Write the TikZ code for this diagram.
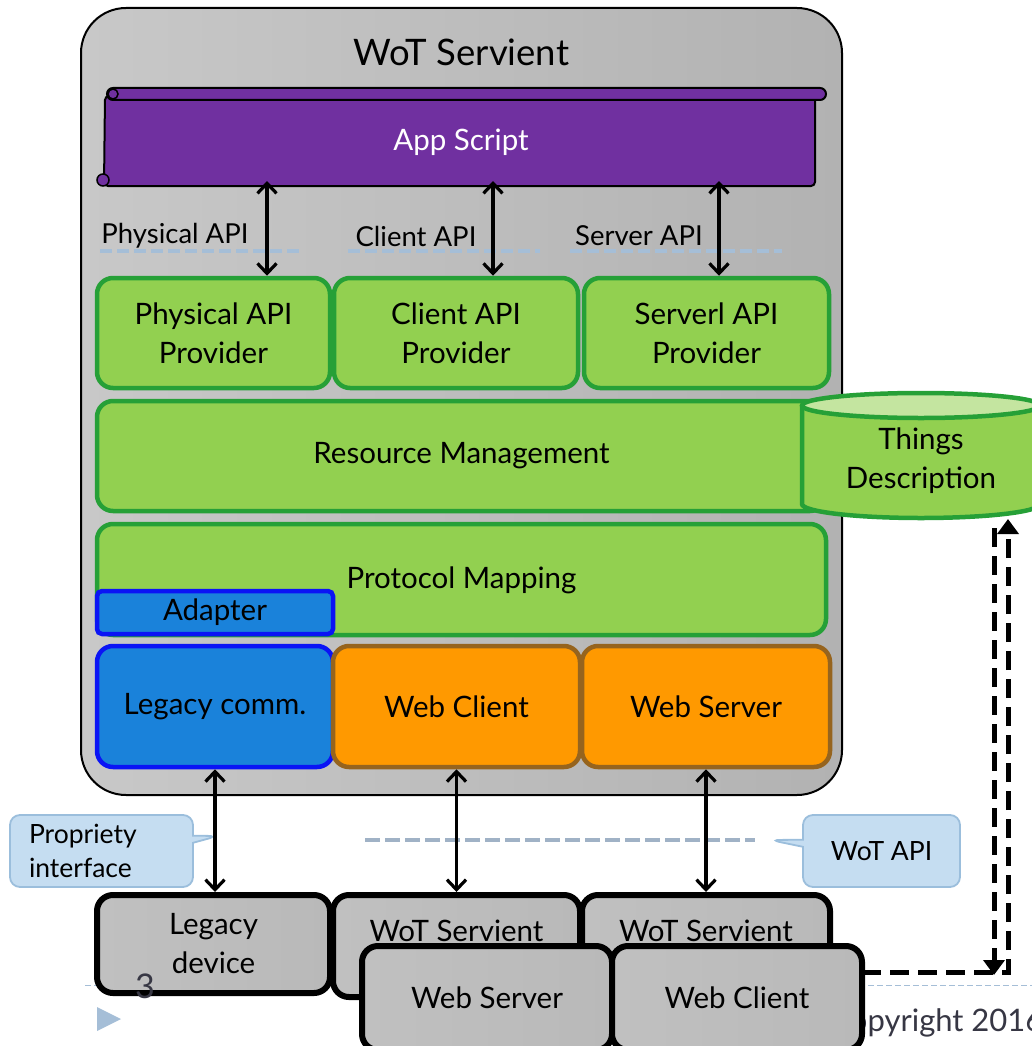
\documentclass[tikz,border=0pt]{standalone}
\usepackage{fontspec}
\setmainfont{Lato}
\usetikzlibrary{arrows.meta,shapes.callouts,calc}
\definecolor{gbody}{RGB}{146,208,80}
\definecolor{gborder}{RGB}{38,160,55}
\definecolor{gtop}{RGB}{196,229,160}
\definecolor{bbody}{RGB}{26,130,218}
\definecolor{bborder}{RGB}{10,20,245}
\definecolor{obody}{RGB}{255,153,0}
\definecolor{oborder}{RGB}{150,100,30}
\definecolor{purp}{RGB}{112,48,160}
\definecolor{cfill}{RGB}{197,221,241}
\definecolor{cborder}{RGB}{155,190,220}
\definecolor{apiblue}{RGB}{165,190,215}
\definecolor{wotdash}{RGB}{160,178,198}
\definecolor{footgray}{RGB}{55,55,68}
\definecolor{grayA}{RGB}{200,200,200}
\definecolor{grayB}{RGB}{165,165,165}
\definecolor{grayC}{RGB}{178,178,178}
\definecolor{grayD}{RGB}{192,192,192}
\definecolor{grayE}{RGB}{160,160,160}
\definecolor{grayF}{RGB}{185,185,185}
\begin{document}
\begin{tikzpicture}[x=1pt,y=-1pt,
  txt/.style={font=\fontsize{29.5}{39}\selectfont},
  box/.style={rounded corners=16pt, align=center, inner sep=0pt, txt},
  greenbox/.style={box, fill=gbody, draw=gborder, line width=4.5pt},
  bluebox/.style={box, fill=bbody, draw=bborder, line width=4.5pt},
  orangebox/.style={box, fill=obody, draw=oborder, line width=4.5pt},
  graybox/.style={box, draw=black, line width=6pt, left color=grayD, middle color=grayE, right color=grayF},
  dbl/.style={line width=3.2pt, >={Straight Barb[length=10pt,width=19pt]}, <->},
  apilabel/.style={font=\fontsize{27.5}{32}\selectfont},
  apidash/.style={apiblue, line width=3.5pt, dash pattern=on 12pt off 5pt},
  ddash/.style={line width=5pt, dash pattern=on 19pt off 9pt},
  callout/.style={rectangle callout, fill=cfill, draw=cborder, line width=1.8pt, rounded corners=10pt, font=\fontsize{26.5}{34}\selectfont, minimum height=72pt, minimum width=157pt},
]
\useasboundingbox (0,0) rectangle (1032,1046);
\clip (0,0) rectangle (1032,1046);

% outer servient
\node (servient) [draw=black, line width=2pt, rounded corners=45pt, left color=grayA, middle color=grayB, right color=grayC, minimum width=761pt, minimum height=787pt] at (461.5,401.5) {};
\node (title) at (461.5,52) {\fontsize{36.5}{40}\selectfont WoT Servient};

% scroll
\filldraw[fill=purp, draw=black, line width=2pt, rounded corners=4pt] (105,96) -- (815,96) -- (815,186) -- (104,186) -- cycle;
\filldraw[fill=purp, draw=black, line width=2pt, rounded corners=6pt] (107,88) rectangle (826,100);
\filldraw[fill=purp, draw=black, line width=1.5pt] (113,94) circle (5);
\filldraw[fill=purp, draw=black, line width=1.5pt] (103,180) circle (6);
\node (script) [txt, text=white] at (461,142) {App Script};

% API labels and dashes
\node (lphys) [apilabel] at (175,236) {Physical API};
\node (lcli) [apilabel] at (416,236) {Client API};
\node (lsrv) [apilabel] at (639,236) {Server API};
\draw[apidash] (100,251) -- (300,251);
\draw[apidash] (348,251) -- (540,251);
\draw[apidash] (570,251) -- (782,251);

% providers
\node (pap) [greenbox, minimum width=233pt, minimum height=110pt] at (213.5,333) {Physical API\\Provider};
\node (cap) [greenbox, minimum width=244pt, minimum height=110pt] at (456,333) {Client API\\Provider};
\node (sap) [greenbox, minimum width=245pt, minimum height=110pt] at (706.5,333) {Serverl API\\Provider};

\coordinate (s1) at (267,181);
\coordinate (s2) at (493,181);
\coordinate (s3) at (719,181);
\draw[dbl] (s1) -- (s1 |- pap.north);
\draw[dbl] (s2) -- (s2 |- cap.north);
\draw[dbl] (s3) -- (s3 |- sap.north);

% resource management
\node (rm) [greenbox, minimum width=729pt, minimum height=110pt] at (461.5,456) {Resource Management};

% things description cylinder
\filldraw[fill=gbody, draw=gborder, line width=4.5pt] (802,405.5) -- (802,504) arc[start angle=180, end angle=360, x radius=119pt, y radius=14pt] -- (1040,405.5);
\filldraw[fill=gtop, draw=gborder, line width=4.5pt] (921,405.5) ellipse [x radius=119pt, y radius=12.5pt];
\node (td) [txt, align=center] at (921,461) {Things\\Description};

% protocol mapping
\node (pm) [greenbox, minimum width=729pt, minimum height=111pt] at (461.5,579.5) {};
\node (pmt) [txt] at (461.5,580) {Protocol Mapping};
\node (ad) [bluebox, rounded corners=5pt, minimum width=236pt, minimum height=43pt] at (215,612.5) {Adapter};

% bottom layer
\node (lc) [bluebox, minimum width=236pt, minimum height=121pt] at (215,706.5) {Legacy comm.};
\node (wc) [orangebox, minimum width=247pt, minimum height=121pt] at (456.5,706.5) {Web Client};
\node (wsv) [orangebox, minimum width=248pt, minimum height=121pt] at (706,706.5) {Web Server};

% WoT API dashed line
\draw[wotdash, line width=4.5pt, dash pattern=on 15pt off 5pt] (365,840) -- (755,840);

% callouts
\node (cprop) [callout, minimum width=183pt, text width=145pt, align=left, callout absolute pointer={(218,836)}] at (101.5,851) {Propriety\\interface};
\node (cwot) [callout, align=center, callout absolute pointer={(770,840)}] at (881.5,851) {WoT API};

% footer (slide background)
\draw[apiblue, line width=1pt, dash pattern=on 6pt off 3pt] (85,985) -- (1040,985);
\fill[apiblue] (97,1007) -- (121,1019) -- (97,1031) -- cycle;
\node (copy) [anchor=base west, text=footgray, font=\fontsize{31}{34}\selectfont] at (826,1031) {Copyright 2016};

% bottom devices
\node (ld) [graybox, minimum width=233pt, minimum height=98pt] at (213.5,944) {Legacy\\device};
\node (ws1) [graybox, minimum width=247pt, minimum height=102pt] at (456.5,946) {};
\node (ws1t) [txt] at (456.5,931) {WoT Servient};
\node (ws2) [graybox, minimum width=248pt, minimum height=98pt] at (706,944) {};
\node (ws2t) [txt] at (706,931) {WoT Servient};
\node (wsrv) [graybox, minimum width=250pt, minimum height=104pt] at (487,998) {Web Server};
\node (wcli) [graybox, minimum width=250pt, minimum height=104pt] at (737,998) {Web Client};
\node (pnum) [text=footgray, font=\fontsize{34}{36}\selectfont] at (145,986) {3};

% device arrows
\draw[dbl] (lc.south) -- (lc.south |- ld.north);
\draw[dbl] (wc.south) -- (wc.south |- ws1.north);
\draw[dbl] (wsv.south) -- (wsv.south |- ws2.north);

% dashed TD links
\coordinate (tdl) at (994,528);
\coordinate (tdr) at (1008,519);
\coordinate (hl) at (862,972);
\coordinate (hc) at (1008,972);
\coordinate (dl) at (994,975);
\draw[ddash, -{Triangle[length=15pt,width=21pt]}] (tdl) -- (dl);
\draw[ddash, -{Triangle[length=15pt,width=21pt]}] (hl) -- (hc) -- (tdr);
\end{tikzpicture}
\end{document}
